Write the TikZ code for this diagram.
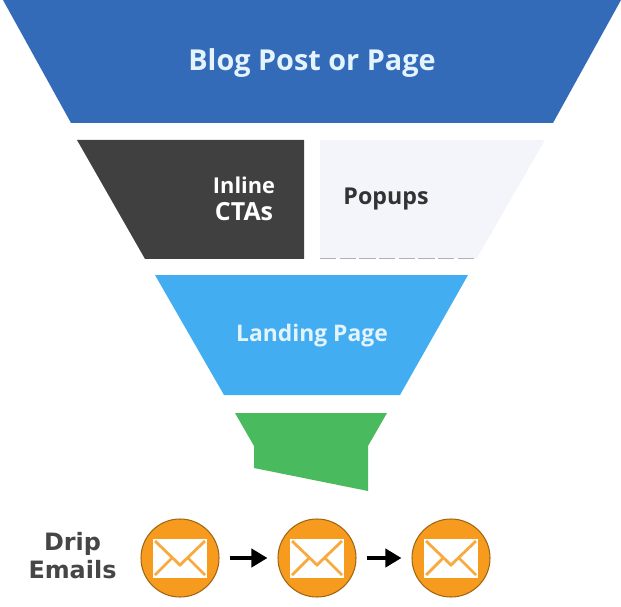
\documentclass[tikz,border=0pt]{standalone}
\usepackage{fontspec}
\setmainfont{Open Sans}
\newfontfamily\dripfont{DejaVu Sans}
\usetikzlibrary{positioning, arrows.meta}
\definecolor{TopBlue}{RGB}{52, 107, 184}
\definecolor{DarkGrey}{RGB}{64, 64, 64}
\definecolor{PaleBlue}{RGB}{243, 245, 251}
\definecolor{SkyBlue}{RGB}{66, 173, 240}
\definecolor{LeafGreen}{RGB}{74, 186, 94}
\definecolor{MailOrange}{RGB}{247, 155, 30}
\definecolor{DripGrey}{RGB}{70, 70, 70}
\definecolor{IceWhite}{RGB}{228, 244, 255}
\tikzset{
  lightlabel/.style={font=\fontsize{6.2}{7.8}\selectfont\bfseries, text=white, align=center},
  darklabel/.style={font=\fontsize{6.6}{8.2}\selectfont\bfseries, text=black!80},
  mailnode/.style={circle, fill=MailOrange, draw=black!35!MailOrange, line width=0.3pt, minimum size=0.78cm, inner sep=0pt},
  mailarrow/.style={line width=1.1pt, -{Triangle[length=1.6mm, width=1.8mm]}, shorten <=1mm, shorten >=1mm}
}
\newcommand{\envelope}[1]{
  \fill[white] ([shift={(-0.27,-0.195)}]#1.center) rectangle ([shift={(0.27,0.195)}]#1.center);
  \draw[MailOrange!85!white, line width=0.8pt] ([shift={(-0.25,0.17)}]#1.center) -- ([shift={(0,-0.07)}]#1.center) -- ([shift={(0.25,0.17)}]#1.center);
  \draw[MailOrange!85!white, line width=0.8pt] ([shift={(-0.25,-0.17)}]#1.center) -- ([shift={(-0.08,0)}]#1.center);
  \draw[MailOrange!85!white, line width=0.8pt] ([shift={(0.25,-0.17)}]#1.center) -- ([shift={(0.08,0)}]#1.center);
}

\begin{document}
\begin{tikzpicture}
    \useasboundingbox (0,0) rectangle (6.21,6.06);

    % Funnel layers
    \fill[TopBlue] (0.03,6.06) -- (6.21,6.06) -- (5.53,4.83) -- (0.71,4.83) -- cycle;
    \fill[DarkGrey] (0.77,4.66) -- (3.04,4.66) -- (3.04,3.47) -- (1.45,3.47) -- cycle;
    \fill[PaleBlue] (3.20,4.66) -- (5.45,4.66) -- (4.77,3.48) -- (3.20,3.48) -- cycle;
    \draw[black!30, line width=0.2pt, dash pattern=on 4.6pt off 1pt] (3.20,3.48) -- (4.77,3.48);
    \fill[SkyBlue] (1.55,3.31) -- (4.68,3.31) -- (4.00,2.11) -- (2.24,2.11) -- cycle;
    \fill[LeafGreen] (2.35,1.93) -- (3.87,1.93) -- (3.68,1.60) -- (3.68,1.15) -- (2.54,1.38) -- (2.54,1.60) -- cycle;

    % Funnel labels
    \node[lightlabel, font=\fontsize{8.2}{9.6}\selectfont\bfseries, text=IceWhite] (blog) at (3.12,5.43) {Blog Post or Page};
    \node[lightlabel] (inline) at (2.44,4.07) {Inline\\{\fontsize{7.1}{7.8}\selectfont CTAs}};
    \node[darklabel] (popups) at (3.86,4.07) {Popups};
    \node[lightlabel, font=\fontsize{6.5}{8.2}\selectfont\bfseries, text=IceWhite] (landing) at (3.12,2.70) {Landing Page};

    % Drip row
    \node[font=\fontsize{6.8}{8.2}\selectfont\bfseries\dripfont, text=DripGrey, align=center] (drip) at (0.725,0.505) {Drip\\Emails};
    \node[mailnode] (mailone) at (1.80,0.48) {};
    \node[mailnode] (mailtwo) at (3.17,0.48) {};
    \node[mailnode] (mailthree) at (4.51,0.48) {};
    \envelope{mailone}
    \envelope{mailtwo}
    \envelope{mailthree}

    % Arrows
    \draw[mailarrow] (mailone) -- (mailtwo);
    \draw[mailarrow] (mailtwo) -- (mailthree);
\end{tikzpicture}
\end{document}
